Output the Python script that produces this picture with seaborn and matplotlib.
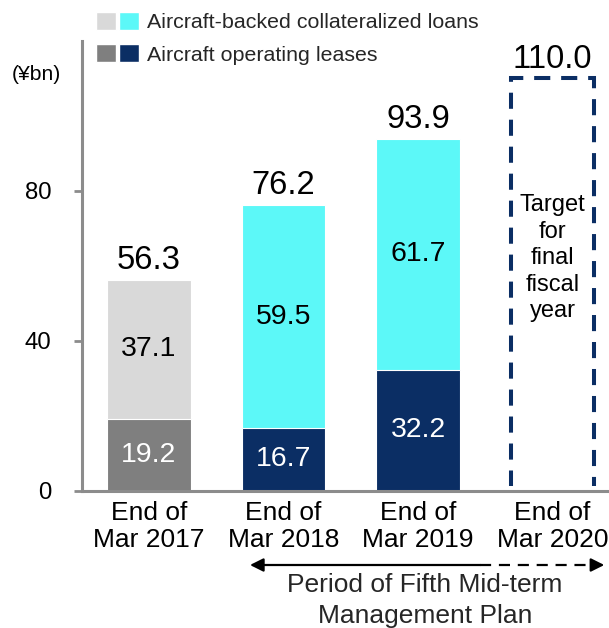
import numpy as np
import pandas as pd
import matplotlib
matplotlib.use("Agg")
import matplotlib.pyplot as plt
import matplotlib.transforms as mtransforms
from matplotlib.patches import Patch
from matplotlib.legend_handler import HandlerTuple
import seaborn as sns

# ---- data ----
categories = ["End of\nMar 2017", "End of\nMar 2018", "End of\nMar 2019", "End of\nMar 2020"]
loans = [37.1, 59.5, 61.7]          # aircraft-backed collateralized loans
leases = [19.2, 16.7, 32.2]         # aircraft operating leases
totals = [56.3, 76.2, 93.9]
target_total = 110.0
yticks = [0, 40, 80]

loan_colors = ["#d9d9d9", "#5cf8f8", "#5cf8f8"]
lease_colors = ["#7f7f7f", "#0b2e64", "#0b2e64"]
loan_text_colors = ["black", "black", "black"]
lease_text_colors = ["white", "white", "white"]
NAVY = "#0b2e64"
SPINE = "#8c8c8c"

sns.set_style("white")
plt.rcParams["font.family"] = ["Liberation Sans", "DejaVu Sans"]

fig = plt.figure(figsize=(6.09, 6.28), dpi=100)
ax = fig.add_axes([0.1342, 0.2186, 0.8658, 0.7166])

df = pd.DataFrame({"cat": categories[:3], "loans": loans, "leases": leases,
                   "total": totals})
W = 0.62

# upper segment drawn at full height, lower segment on top of it
sns.barplot(data=df, x="cat", y="total", order=categories, color=loan_colors[0],
            width=W, ax=ax, edgecolor="white", linewidth=0.8, saturation=1)
n0 = len(ax.patches)
sns.barplot(data=df, x="cat", y="leases", order=categories, color=lease_colors[0],
            width=W, ax=ax, edgecolor="white", linewidth=0.8, saturation=1)
patches = ax.patches
for i in range(3):
    patches[i].set_facecolor(loan_colors[i])
    patches[n0 + i].set_facecolor(lease_colors[i])

# target box
n1 = len(ax.patches)
tdf = pd.DataFrame({"cat": [categories[3]], "total": [target_total]})
sns.barplot(data=tdf, x="cat", y="total", order=categories, width=W, ax=ax,
            fill=False, edgecolor=NAVY, linewidth=2.9, linestyle=(0, (4, 2.7)))
clipbox = mtransforms.TransformedBbox(mtransforms.Bbox([[-0.5, 1.2], [3.42, 130]]),
                                      ax.transData)
for p in ax.patches[n1:]:
    p.set_clip_box(clipbox)
    p.set_clip_on(True)

# value labels
for i in range(3):
    ax.text(i, leases[i] / 2, f"{leases[i]:.1f}", ha="center", va="center",
            fontsize=20.4, color=lease_text_colors[i])
    ax.text(i, leases[i] + loans[i] / 2, f"{loans[i]:.1f}", ha="center", va="center",
            fontsize=20.4, color=loan_text_colors[i])
    ax.annotate(f"{totals[i]:.1f}", (i, totals[i]), xytext=(0, 2.5),
                textcoords="offset points", ha="center", va="bottom",
                fontsize=23.6, color="black")
ax.annotate(f"{target_total:.1f}", (3, target_total), xytext=(0, 2.0),
            textcoords="offset points", ha="center", va="bottom",
            fontsize=23.6, color="black", annotation_clip=False)
ax.text(3, 62.0, "Target\nfor\nfinal\nfiscal\nyear", ha="center", va="center",
        fontsize=17, color="black", linespacing=1.27)

# axes
ax.set_xlim(-0.5, 3.42)
ax.set_ylim(0, 120)
ax.set_yticks(yticks)
ax.set_yticklabels([str(v) for v in yticks], fontsize=17.3, color="black")
ax.set_xticks(range(4))
ax.set_xticklabels(categories, fontsize=19, color="black", linespacing=1.15)
ax.set_xticks([-0.5, 0.5, 1.5, 2.5], minor=True)
ax.tick_params(axis="x", which="major", length=0, pad=7.5)
ax.tick_params(axis="x", which="minor", length=5, width=2, color=SPINE, direction="out")
ax.tick_params(axis="y", which="major", length=5.5, width=2, color=SPINE,
               direction="out", pad=16.5, left=True)
ax.set_xlabel("")
ax.set_ylabel("")
for s in ["top", "right"]:
    ax.spines[s].set_visible(False)
for s in ["left", "bottom"]:
    ax.spines[s].set_color(SPINE)
    ax.spines[s].set_linewidth(2.2)

# unit label
fig.text(36 / 609, 1 - 75 / 628, "(¥bn)", ha="center", va="center",
         fontsize=15.2, color="black")

# legend
handles = [(Patch(facecolor=loan_colors[0]), Patch(facecolor=loan_colors[1])),
           (Patch(facecolor=lease_colors[0]), Patch(facecolor=lease_colors[1]))]
labels = ["Aircraft-backed collateralized loans", "Aircraft operating leases"]
fig.legend(handles, labels, handler_map={tuple: HandlerTuple(ndivide=None, pad=0.15)},
           loc="upper left", bbox_to_anchor=(96 / 609, 1 - 12 / 628),
           frameon=False, fontsize=15.4, handlelength=2.0, handleheight=0.93,
           handletextpad=0.37, labelspacing=0.55, borderpad=0, borderaxespad=0)

# period arrow
trans = mtransforms.blended_transform_factory(ax.transData, fig.transFigure)
ya = 1 - 565 / 628
ax.annotate("", xy=(0.751, ya), xytext=(2.462, ya), xycoords=trans, textcoords=trans,
            arrowprops=dict(arrowstyle="-|>", mutation_scale=20, lw=1.6,
                            color="black", shrinkA=0, shrinkB=0),
            annotation_clip=False)
ax.plot([2.462, 3.31], [ya, ya], transform=trans, color="black", lw=1.6,
        linestyle=(0, (5, 3.5)), clip_on=False)
ax.annotate("", xy=(3.385, ya), xytext=(3.31, ya), xycoords=trans, textcoords=trans,
            arrowprops=dict(arrowstyle="-|>", mutation_scale=20, lw=1.6,
                            color="black", shrinkA=0, shrinkB=0),
            annotation_clip=False)
fig.text(425 / 609, 1 - 585 / 628, "Period of Fifth Mid-term", ha="center",
         va="center", fontsize=19, color="#262626")
fig.text(425 / 609, 1 - 616 / 628, "Management Plan", ha="center",
         va="center", fontsize=19, color="#262626")

fig.savefig("out.png", dpi=100)
